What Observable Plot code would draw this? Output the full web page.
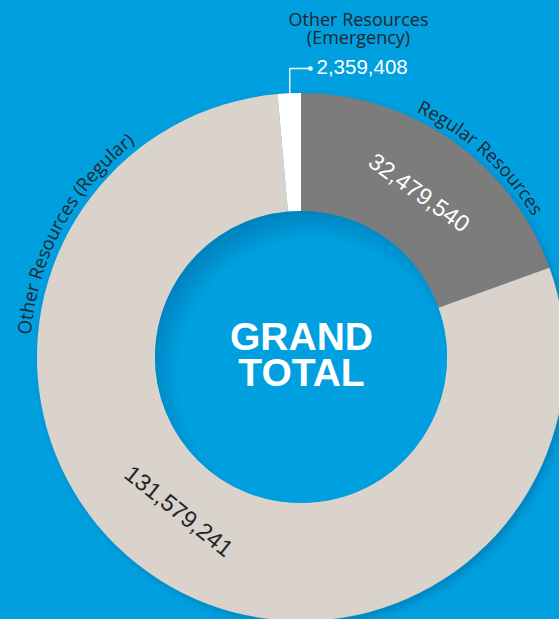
<!DOCTYPE html>
<html>
<head>
<meta charset="utf-8">
<script src="https://cdn.jsdelivr.net/npm/d3@7"></script>
<script src="https://cdn.jsdelivr.net/npm/@observablehq/plot@0.6"></script>
<style>
  html, body { margin: 0; padding: 0; background: #009fe0; overflow: hidden; }
  #chart svg { display: block; }
</style>
</head>
<body>
<div id="chart"></div>
<script>
// ---- data ----
const categories = ["Regular Resources", "Other Resources (Regular)", "Other Resources (Emergency)"];
const values = [32479540, 131579241, 2359408];
const valueLabels = ["32,479,540", "131,579,241", "2,359,408"];
const sliceColors = ["#7b7b7d", "#d9d3cc", "#ffffff"];
const emergencyTitle = "Other Resources\n(Emergency)";
const centerLabel = "GRAND\nTOTAL";

// ---- layout (pixels) ----
const W = 559, H = 619, CX = 301, CY = 357, R0 = 146, R1 = 264;
const BG = "#009fe0";
const DARK = "#22262b";

const rows = categories.map((c, i) => ({category: c, value: values[i], label: valueLabels[i]}));
const arcs = d3.pie().sort(null).value(d => d.value)(rows);
const mid = a => (a.startAngle + a.endAngle) / 2;
const deg = r => r * 180 / Math.PI;
const rad = d => d * Math.PI / 180;
const polar = (r, a) => [r * Math.sin(a), -r * Math.cos(a)];

// value labels inside the ring (straight, rotated along tangent)
const valuePos = [
  {arc: arcs[0], r: 202, off: 0.4},
  {arc: arcs[1], r: 197, off: 6}
].map(({arc, r, off}) => {
  const a = mid(arc) + rad(off);
  const [x, y] = polar(r, a);
  let rot = deg(a);
  if (rot > 90 && rot < 270) rot -= 180;
  return {x, y, rot, text: arc.data.label, fill: arc.index === 0 ? "#ffffff" : DARK};
});

// emergency callout
const eArc = arcs[2];
const [ex] = polar(R1, mid(eArc));
const dotY = 68 - CY, dotX = 310 - CX;
const leader = [[ex, -R1], [ex, dotY], [dotX, dotY]];

// curved outer labels
const curved = [
  {text: categories[0], bearing: 42},
  {text: categories[1], bearing: 298.5}
];

function donut(index, scales) {
  const x = scales.x, y = scales.y;
  const color = scales.color || (c => sliceColors[categories.indexOf(c)]);
  const cx = x(0), cy = y(0), k = x(1) - x(0);
  const g = d3.create("svg:g");
  const defs = g.append("defs");
  const f = defs.append("filter").attr("id", "ringShadow")
    .attr("x", "-20%").attr("y", "-20%").attr("width", "140%").attr("height", "140%");
  f.append("feDropShadow").attr("dx", 4).attr("dy", 4).attr("stdDeviation", 4)
    .attr("flood-color", "#00507e").attr("flood-opacity", 0.35);
  const rg = defs.append("radialGradient").attr("id", "holeGrad")
    .attr("cx", 0.54).attr("cy", 0.56).attr("r", 0.56);
  rg.append("stop").attr("offset", 0.82).attr("stop-color", BG);
  rg.append("stop").attr("offset", 1).attr("stop-color", "#0084c0");

  const ring = g.append("g").attr("transform", `translate(${cx},${cy})`);
  ring.append("g").attr("filter", "url(#ringShadow)")
    .selectAll("path").data(arcs).join("path")
    .attr("d", d3.arc().innerRadius(R0 * k).outerRadius(R1 * k))
    .attr("fill", d => color(d.data.category));
  ring.append("circle").attr("r", R0 * k).attr("fill", "url(#holeGrad)");

  // curved labels
  const rt = 271 * k;
  curved.forEach((c, i) => {
    const a0 = rad(c.bearing - 70), a1 = rad(c.bearing + 70);
    const [x0, y0] = polar(rt, a0), [x1, y1] = polar(rt, a1);
    defs.append("path").attr("id", "cpath" + i)
      .attr("d", `M${cx + x0},${cy + y0} A${rt},${rt} 0 0 1 ${cx + x1},${cy + y1}`);
    g.append("text")
      .attr("font-family", "'Open Sans', 'Noto Sans', sans-serif")
      .attr("font-size", 18.5).attr("fill", DARK)
      .append("textPath").attr("href", "#cpath" + i)
      .attr("startOffset", "50%").attr("text-anchor", "middle")
      .text(c.text);
  });
  return g.node();
}

const chart = Plot.plot({
  width: W,
  height: H,
  margin: 0,
  style: {background: BG, overflow: "visible"},
  x: {domain: [-CX, W - CX], range: [0, W], axis: null},
  y: {domain: [-CY, H - CY], range: [0, H], axis: null},
  color: {domain: categories, range: sliceColors},
  marks: [
    Plot.dot(rows, {x: () => 0, y: () => 0, fill: "category", r: 0}),
    donut,
    // leader line + dot
    Plot.line(leader, {x: d => d[0], y: d => d[1], stroke: "#ffffff", strokeWidth: 1.3}),
    Plot.dot([leader[2]], {x: d => d[0], y: d => d[1], r: 2.3, fill: "#ffffff"}),
    Plot.text([eArc.data.label], {
      x: 15, y: 66.5 - CY, text: d => d, textAnchor: "start", lineAnchor: "middle",
      fill: "#ffffff", fontSize: 20.5, fontFamily: "'Liberation Sans', Arial, sans-serif"
    }),
    Plot.text([emergencyTitle], {
      x: 57, y: 28.75 - CY, text: d => d, textAnchor: "middle", lineAnchor: "middle", lineHeight: 0.97,
      fill: DARK, fontSize: 18, fontFamily: "'Open Sans', 'Noto Sans', sans-serif"
    }),
    Plot.text(valuePos, {
      x: "x", y: "y", text: "text", rotate: "rot", fill: "fill", textAnchor: "middle", lineAnchor: "middle",
      fontSize: 23.5, fontFamily: "'Liberation Sans', Arial, sans-serif"
    }),
    Plot.text([centerLabel], {
      x: 0, y: -1.25, text: d => d, textAnchor: "middle", lineAnchor: "middle", lineHeight: 0.936,
      fill: "#ffffff", fontSize: 39, fontWeight: "bold", fontFamily: "'Liberation Sans', Arial, sans-serif"
    })
  ]
});
document.getElementById("chart").appendChild(chart);
</script>
</body>
</html>
